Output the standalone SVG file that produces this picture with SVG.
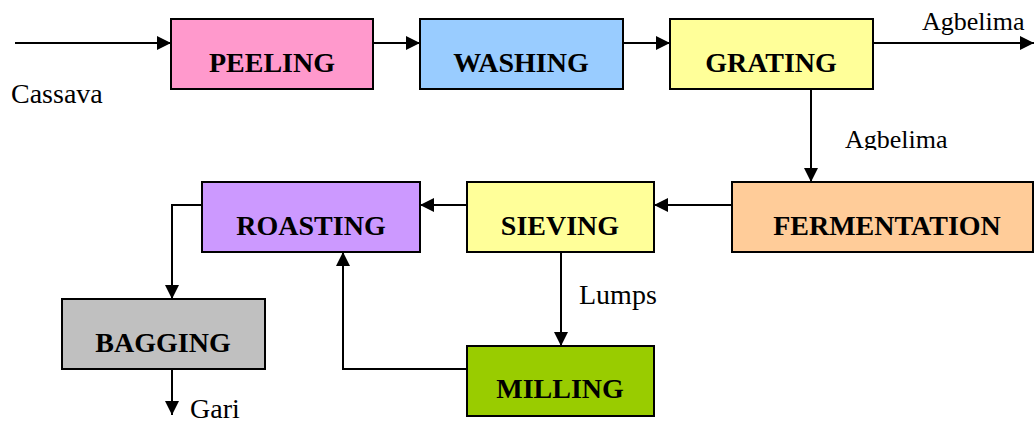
<svg xmlns="http://www.w3.org/2000/svg" width="1034" height="422" viewBox="0 0 1034 422">
  <style>
    .box { stroke: #000; stroke-width: 2; }
    .step { font-family: "Liberation Serif", "Times New Roman", serif; font-weight: bold; font-size: 28px; text-anchor: middle; fill: #000; }
    .note { font-family: "Liberation Serif", "Times New Roman", serif; font-size: 28px; fill: #000; }
    .note.small { font-size: 26px; }
    .flow { fill: none; stroke: #000; stroke-width: 2; marker-end: url(#arrow); }
  </style>
  <defs>
    <marker id="arrow" markerWidth="14" markerHeight="14" refX="14" refY="7" orient="auto" markerUnits="userSpaceOnUse">
      <path d="M0,0 L14,7 L0,14 Z" fill="#000"/>
    </marker>
    <clipPath id="cut">
      <rect x="0" y="0" width="1034" height="150"/>
    </clipPath>
  </defs>
  <rect width="1034" height="422" fill="#fff"/>

  <g id="connectors">
    <path class="flow" d="M15,43 H171"/>
    <path class="flow" d="M373,43 H420"/>
    <path class="flow" d="M623,43 H670"/>
    <path class="flow" d="M873,43 H1034"/>
    <path class="flow" d="M811,89 V182"/>
    <path class="flow" d="M732,205 H654"/>
    <path class="flow" d="M467,205 H420"/>
    <path class="flow" d="M202,205 H172 V299"/>
    <path class="flow" d="M561,252 V346"/>
    <path class="flow" d="M467,369 H343 V252"/>
    <path class="flow" d="M172,369 V415"/>
  </g>

  <g id="labels">
    <text class="note" x="11" y="103">Cassava</text>
    <text class="note small" x="922" y="30">Agbelima</text>
    <text class="note small" x="845" y="148" clip-path="url(#cut)">Agbelima</text>
    <text class="note" x="579" y="304">Lumps</text>
    <text class="note" x="190" y="418">Gari</text>
  </g>

  <g id="peeling">
    <rect class="box" x="171" y="19" width="202" height="70" fill="#ff99cc"/>
    <text class="step" x="272" y="72">PEELING</text>
  </g>
  <g id="washing">
    <rect class="box" x="420" y="19" width="203" height="70" fill="#99ccff"/>
    <text class="step" x="521" y="72">WASHING</text>
  </g>
  <g id="grating">
    <rect class="box" x="670" y="19" width="203" height="70" fill="#ffff99"/>
    <text class="step" x="771" y="72">GRATING</text>
  </g>
  <g id="fermentation">
    <rect class="box" x="732" y="182" width="301" height="70" fill="#ffcc99"/>
    <text class="step" x="887" y="235">FERMENTATION</text>
  </g>
  <g id="sieving">
    <rect class="box" x="467" y="182" width="187" height="70" fill="#ffff99"/>
    <text class="step" x="560" y="235">SIEVING</text>
  </g>
  <g id="roasting">
    <rect class="box" x="202" y="182" width="218" height="70" fill="#cc99ff"/>
    <text class="step" x="311" y="235">ROASTING</text>
  </g>
  <g id="bagging">
    <rect class="box" x="62" y="299" width="203" height="70" fill="#c0c0c0"/>
    <text class="step" x="163" y="352">BAGGING</text>
  </g>
  <g id="milling">
    <rect class="box" x="467" y="346" width="187" height="70" fill="#99cc00"/>
    <text class="step" x="560" y="398">MILLING</text>
  </g>
</svg>
